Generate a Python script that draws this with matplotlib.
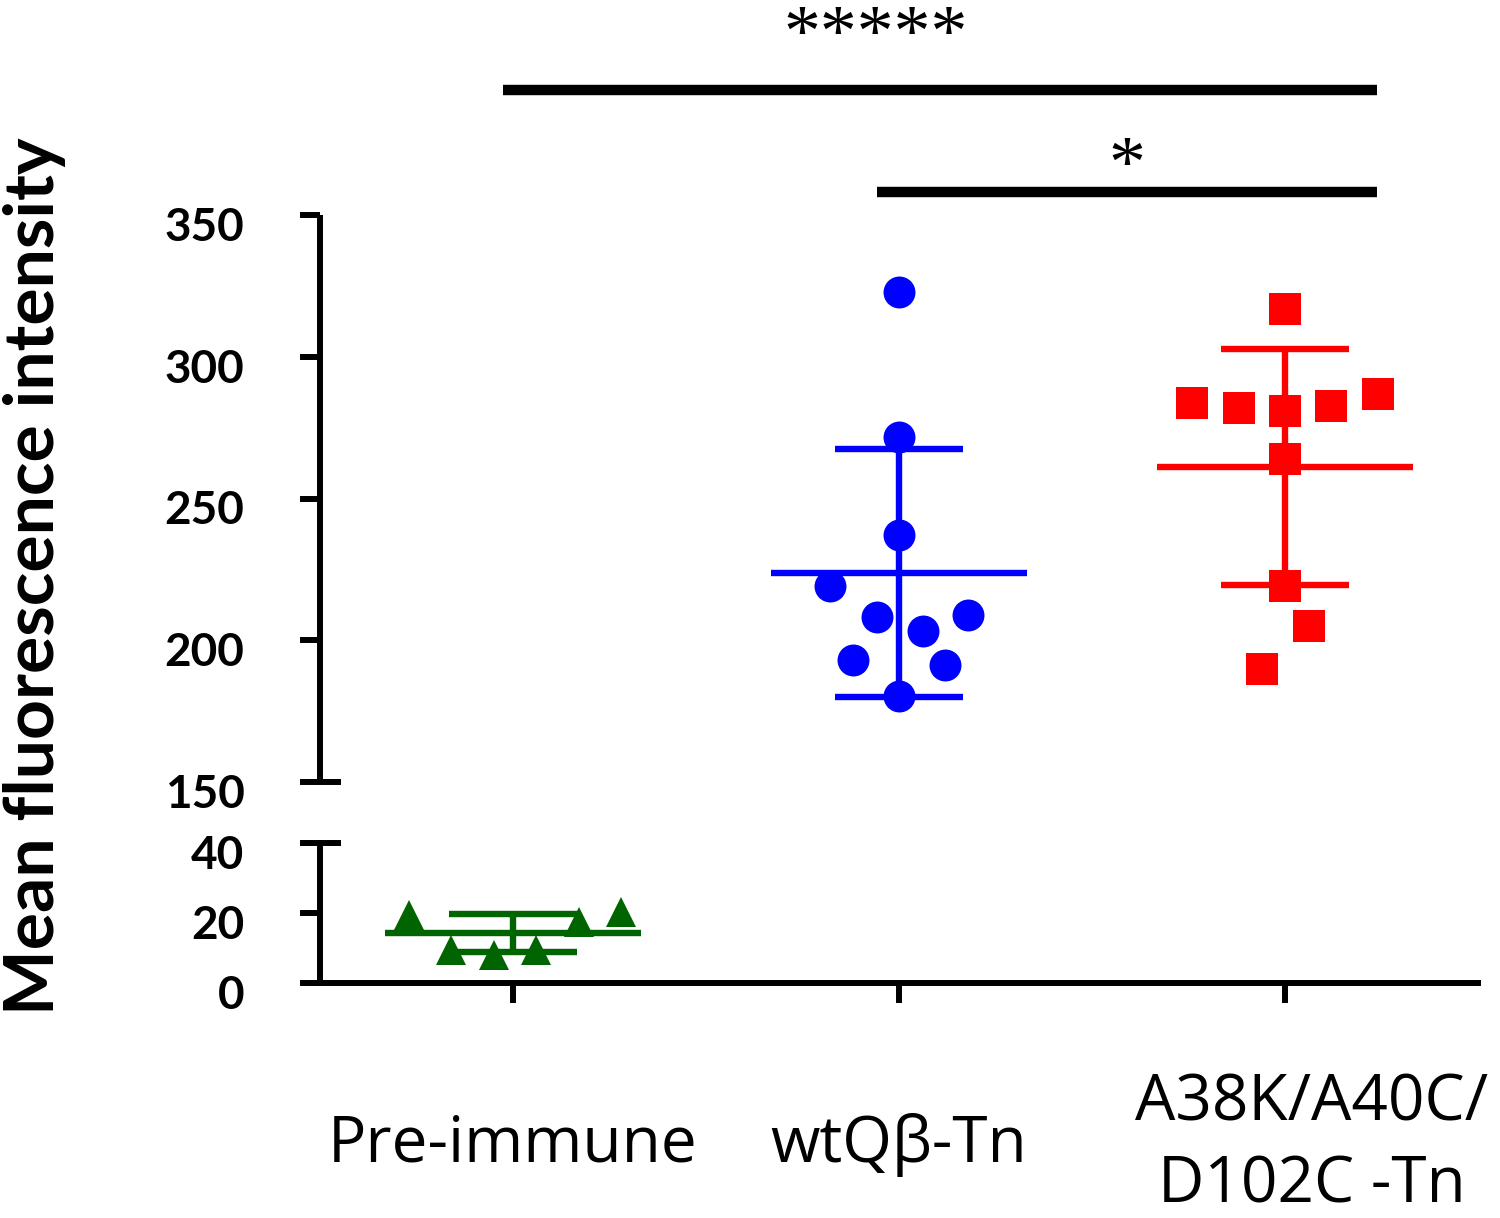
import matplotlib
matplotlib.use("Agg")
import matplotlib.pyplot as plt
from matplotlib.transforms import ScaledTranslation

# groups, in order along the x axis
groups = ["Pre-immune", "wtQβ-Tn", "A38K/A40C/\nD102C -Tn"]
colors = ["#006400", "#0000ff", "#ff0000"]
markers = ["^", "o", "s"]

# individual values
pre_values = [19.4, 9.4, 8.0, 9.4, 17.4, 20.3]
pre_jitter = [-0.27, -0.16, -0.05, 0.06, 0.17, 0.28]
pre_mean = 14.3
pre_sd = 5.4

wt_values = [322.9, 271.8, 237.0, 219.0, 208.1, 203.2, 208.8, 193.0, 191.2, 180.3]
wt_jitter = [0.0, 0.0, 0.0, -0.18, -0.057, 0.062, 0.18, -0.12, 0.12, 0.0]
wt_mean = 223.6
wt_sd = 43.7

mut_values = [316.9, 283.8, 282.0, 281.0, 282.7, 287.0, 264.1, 219.0, 204.9, 189.8]
mut_jitter = [0.0, -0.24, -0.12, 0.0, 0.12, 0.24, 0.0, 0.0, 0.062, -0.06]
mut_mean = 261.1
mut_sd = 41.7

# significance bars: start x, end x, bar height, star x, star height, label
sig_start = [-0.026, 0.944]
sig_end = [2.239, 2.239]
sig_y = [394, 358]
star_x = [0.94, 1.59]
star_y = [412.5, 366]
sig_text = ["*****", "*"]

fig = plt.figure(figsize=(15, 12.18), dpi=100)
W, H = 1500, 1218

def frac(x0, y0, x1, y1):
    return [x0 / W, 1 - y1 / H, (x1 - x0) / W, (y1 - y0) / H]

ax_top = fig.add_axes(frac(320, 215, 1478, 782))
ax_bot = fig.add_axes(frac(320, 843, 1478, 983))

for ax in (ax_top, ax_bot):
    ax.set_xlim(-0.5, 2.5)
    ax.spines['top'].set_visible(False)
    ax.spines['right'].set_visible(False)
    ax.spines['left'].set_linewidth(4.3)
    ax.spines['bottom'].set_linewidth(4.3)
    ax.spines['left'].set_capstyle('butt')
    ax.tick_params(width=4.3, length=14.4, labelsize=33, pad=40)
    ax.patch.set_visible(False)

ax_top.set_ylim(150, 350)
ax_top.set_yticks([150, 200, 250, 300, 350])
ax_top.spines['bottom'].set_visible(False)
ax_top.tick_params(axis='x', bottom=False, labelbottom=False)

ax_bot.set_ylim(0, 40)
ax_bot.set_yticks([0, 20, 40])
ax_bot.set_xticks(range(len(groups)))
ax_bot.set_xticklabels(groups, fontsize=46, family="Open Sans", linespacing=1.38)
ax_bot.tick_params(axis='x', pad=102)
for lab in ax_bot.get_xticklabels():
    lab.set_va('center')
# the two-line label sits a little right of its tick in the reference
last = ax_bot.get_xticklabels()[-1]
last.set_transform(last.get_transform() + ScaledTranslation(0.27, 0, fig.dpi_scale_trans))

off = ScaledTranslation(0, -0.09, fig.dpi_scale_trans)
for ax in (ax_top, ax_bot):
    for lab in ax.get_yticklabels():
        lab.set_fontweight('bold')
        lab.set_family('Lato')
        lab.set_transform(lab.get_transform() + off)

# little break marks at the ends of each segment
for ax, yy in ((ax_top, 0), (ax_bot, 1)):
    ax.plot([0, 0.018], [yy, yy], transform=ax.transAxes, color='black',
            lw=4.3, clip_on=False, solid_capstyle='butt')

def draw_group(ax, i, values, jitter, mean, sd):
    xs = [i + j for j in jitter]
    ax.hlines(mean, i - 0.332, i + 0.332, color=colors[i], lw=4.6, zorder=2)
    ax.errorbar(i, mean, yerr=sd, fmt='none', ecolor=colors[i], elinewidth=4.6,
                capsize=46, capthick=4.6, zorder=2)
    size = 21 if markers[i] == "^" else 23
    ax.plot(xs, values, linestyle='none', marker=markers[i], markersize=size,
            color=colors[i], markeredgewidth=0, zorder=3, clip_on=False)

draw_group(ax_bot, 0, pre_values, pre_jitter, pre_mean, pre_sd)
draw_group(ax_top, 1, wt_values, wt_jitter, wt_mean, wt_sd)
draw_group(ax_top, 2, mut_values, mut_jitter, mut_mean, mut_sd)

# significance bars above the top panel
for i in range(len(sig_text)):
    ax_top.plot([sig_start[i], sig_end[i]], [sig_y[i], sig_y[i]], color='black',
                lw=7.5, clip_on=False, solid_capstyle='butt')
    ax_top.text(star_x[i], star_y[i], sig_text[i], ha='center', va='center',
                fontsize=53, family='Liberation Serif', clip_on=False)

fig.text(35 / W, 1 - 576 / H, "Mean fluorescence intensity", rotation=90,
         ha='center', va='center', fontsize=50, fontweight='bold', family='Lato')

fig.savefig("out.png", dpi=100)
